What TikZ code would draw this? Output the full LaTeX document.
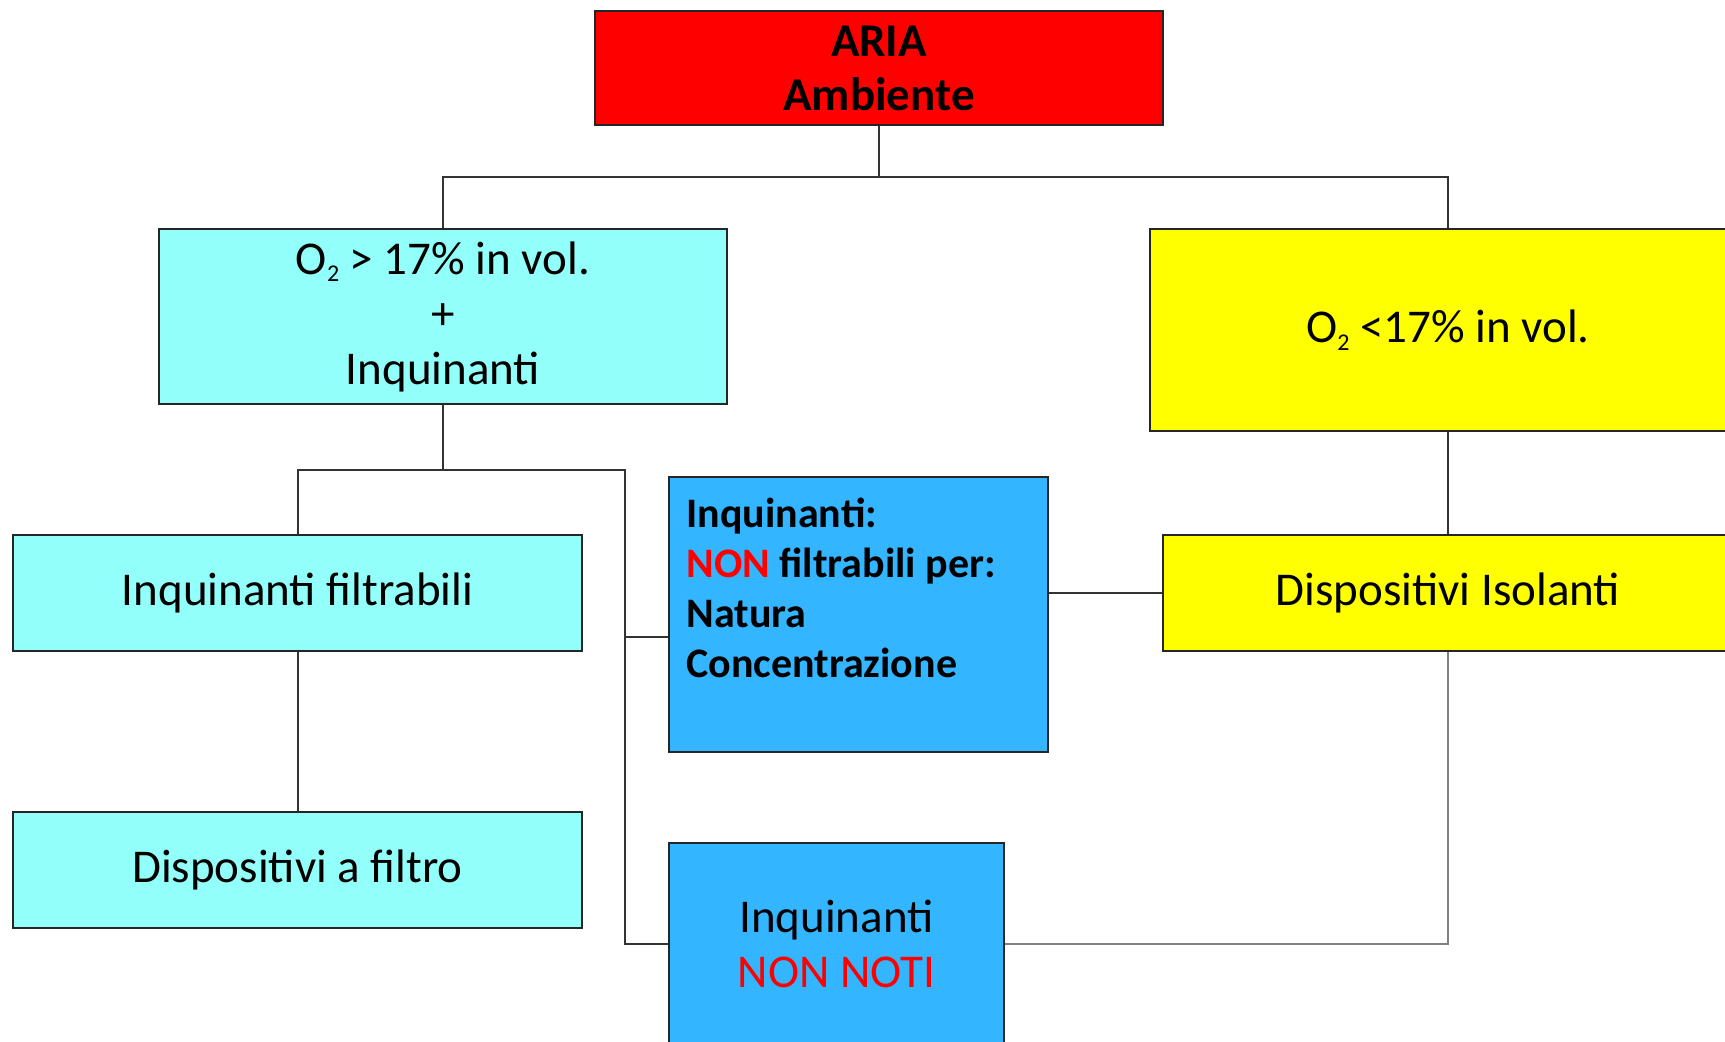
\documentclass[tikz,border=0pt]{standalone}
\usepackage{fontspec}
\setmainfont{Carlito}
\usetikzlibrary{positioning}
\definecolor{rosso}{RGB}{255,0,0}
\definecolor{ciano}{RGB}{147,255,250}
\definecolor{azzurro}{RGB}{51,181,255}
\definecolor{giallo}{RGB}{255,255,0}
\newcommand{\ossigeno}{O\raisebox{-0.35ex}{\fontsize{12}{12}\selectfont 2}}
\tikzset{
box/.style={draw=black!85, line width=1pt, inner sep=0pt, align=center, font=\fontsize{23.5}{27.5}\selectfont},
conn/.style={draw=black!80, line width=1pt},
connlight/.style={draw=black!50, line width=1.2pt},
}
\begin{document}
\begin{tikzpicture}[x=0.5pt,y=-0.5pt]
\clip (0,0) rectangle (1725,1042);
\fill[white] (0,0) rectangle (1725,1042);

\node[box, fill=rosso, minimum width=284pt, minimum height=57pt, font=\bfseries\fontsize{23.5}{27}\selectfont] (aria) at (879,68) {ARIA\\Ambiente};
\node[box, fill=ciano, minimum width=284pt, minimum height=87.5pt] (alto) at (443,316.5) {\ossigeno{} > 17\% in vol.\\+\\Inquinanti};
\node[box, fill=giallo, minimum width=298pt, minimum height=101pt] (basso) at (1448,330) {\ossigeno{} <17\% in vol.};
\node[box, fill=ciano, minimum width=284.5pt, minimum height=58pt] (filtrabili) at (297.5,593) {Inquinanti filtrabili};
\node[box, fill=ciano, minimum width=284.5pt, minimum height=58pt] (filtro) at (297.5,870) {Dispositivi a filtro};
\node[box, fill=azzurro, minimum width=189.5pt, minimum height=137.5pt] (nonfiltr) at (858.5,614.5) {};
\node[below right=11pt and 9pt of nonfiltr.north west, inner sep=0pt, align=left, font=\bfseries\fontsize{21}{25}\selectfont] (nonfiltrtxt) {Inquinanti:\\\textcolor{rosso}{NON} filtrabili per:\\Natura\\Concentrazione};
\node[box, fill=azzurro, minimum width=167.5pt, minimum height=101pt] (nonnoti) at (836.5,944) {Inquinanti\\\textcolor{rosso}{NON NOTI}};
\node[box, fill=giallo, minimum width=285pt, minimum height=58pt] (isolanti) at (1448,593) {Dispositivi Isolanti};

\coordinate (snodo) at (879,177);
\coordinate (centro) at (443,470);
\coordinate (binario) at (625,470);
\coordinate (ramo) at (625,637);

\draw[conn] (aria) -- (snodo);
\draw[conn] (alto.north) |- (snodo) -| (basso.north);
\draw[conn] (alto) -- (centro);
\draw[conn] (filtrabili.north) |- (binario) |- (nonnoti.west);
\draw[conn] (ramo) -- (ramo -| nonfiltr.west);
\draw[conn] (filtrabili) -- (filtro);
\draw[conn] (basso) -- (isolanti);
\draw[conn] (isolanti.west -| nonfiltr.east) -- (isolanti.west);
\draw[connlight] (isolanti) |- (nonnoti);

\end{tikzpicture}
\end{document}
